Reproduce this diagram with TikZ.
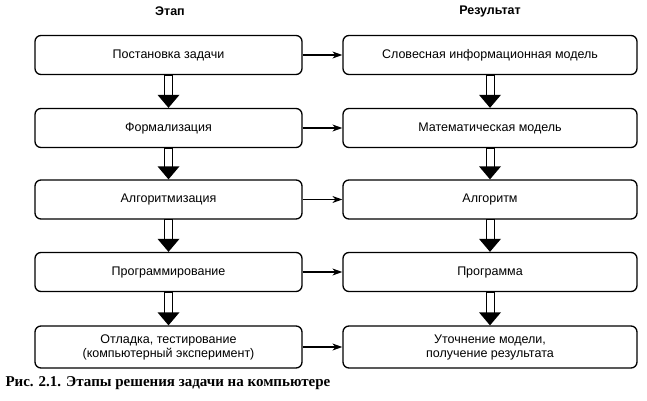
\documentclass[tikz,border=0pt]{standalone}
\usepackage{fontspec}
\setmainfont{Liberation Serif}
\newfontfamily\sansf{Liberation Sans}
\usetikzlibrary{arrows.meta,calc}
\begin{document}
\begin{tikzpicture}[x=1pt,y=-1pt,
 box/.style={draw,line width=1.3pt,rounded corners=6pt,minimum height=39pt,align=center,font=\sansf\fontsize{12.5}{14}\selectfont},
 lbox/.style={box,minimum width=267pt},
 rbox/.style={box,minimum width=294pt},
 harr/.style={-{Stealth[length=10pt,width=7pt]},line width=1.2pt},
 hdr/.style={font=\sansf\bfseries\fontsize{12.5}{14}\selectfont}]
\useasboundingbox (0,0) rectangle (647,401);
\newcommand{\blockarr}[2]{%
 \draw[line width=0.8pt,fill=white] ($(#1.south)+(-4,0)$) rectangle ($(#2.north)+(4,-12)$);
 \fill ($(#2.north)+(-11,-13)$) -- ($(#2.north)+(11,-13)$) -- (#2.north) -- cycle;}
\node[hdr] (h1) at (170,11) {Этап};
\node[hdr] (h2) at (490,11) {Результат};
\node[lbox] (l1) at (168.5,55) {Постановка задачи};
\node[lbox] (l2) at (168.5,128) {Формализация};
\node[lbox] (l3) at (168.5,199.5) {Алгоритмизация};
\node[lbox] (l4) at (168.5,272) {Программирование};
\node[lbox,minimum height=42pt] (l5) at (168.5,347) {Отладка, тестирование\\(компьютерный эксперимент)};
\node[rbox] (r1) at (490,55) {Словесная информационная модель};
\node[rbox] (r2) at (490,128) {Математическая модель};
\node[rbox] (r3) at (490,199.5) {Алгоритм};
\node[rbox] (r4) at (490,272) {Программа};
\node[rbox,minimum height=42pt] (r5) at (490,347) {Уточнение модели,\\получение результата};
\foreach \i in {1,...,5}{\draw[harr] (l\i) -- (r\i);}
\foreach \a/\b in {1/2,2/3,3/4,4/5}{\blockarr{l\a}{l\b}\blockarr{r\a}{r\b}}
\node[anchor=west,font=\bfseries\fontsize{15}{16}\selectfont] (cap) at (2,383) {Рис. 2.1. Этапы решения задачи на компьютере};
\end{tikzpicture}
\end{document}
